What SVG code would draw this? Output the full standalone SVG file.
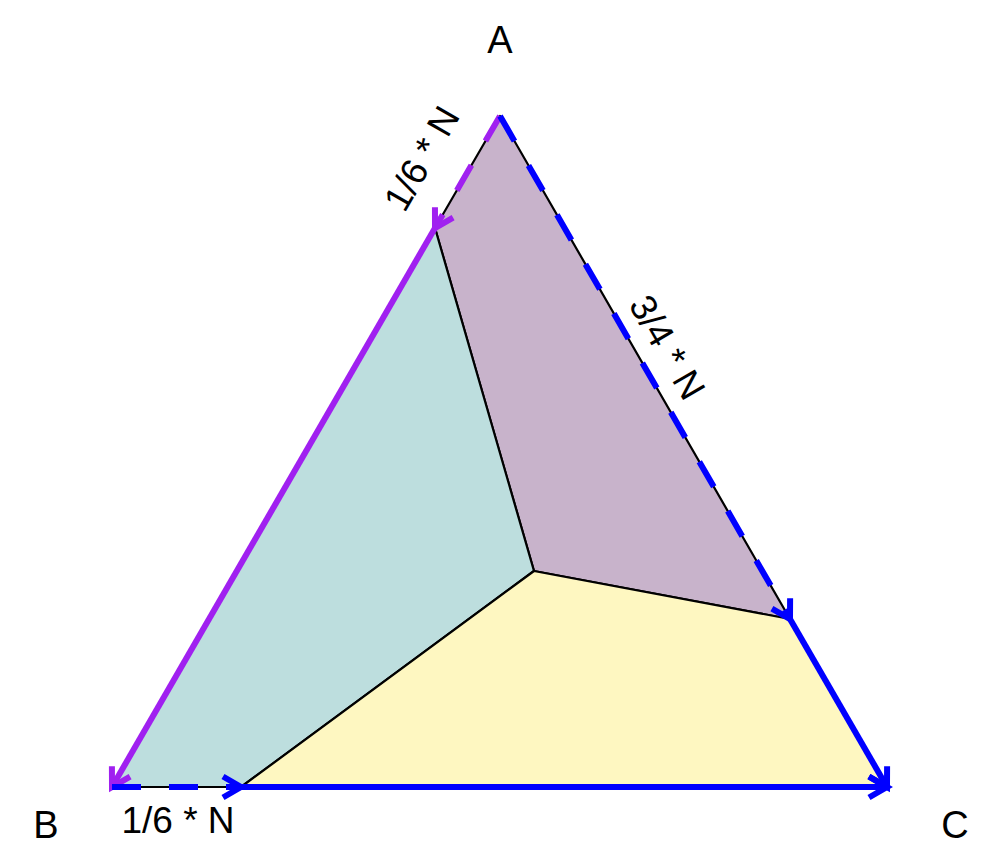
<svg xmlns="http://www.w3.org/2000/svg" width="1000" height="866" viewBox="0 0 1000 866">
<defs>
<style>
.region{stroke:#000;stroke-width:2.2;stroke-linejoin:round}
.lbl{font-family:"Liberation Sans",Arial,sans-serif;font-size:38px;fill:#000;text-anchor:middle}
.qty{font-family:"Liberation Sans",Arial,sans-serif;font-size:37px;fill:#000;text-anchor:middle}
.arr{fill:none;stroke-width:6;stroke-linecap:butt}
.dash{stroke-dasharray:29 28}
.purple{stroke:#A020F0}
.blue{stroke:#0000FF}
</style>
<marker id="hp" markerUnits="userSpaceOnUse" viewBox="-24 -14 28 28" refX="0" refY="0" markerWidth="28" markerHeight="28" orient="auto" overflow="visible">
<path d="M-18,-10.5 L0,0 L-18,10.5" fill="none" stroke="#A020F0" stroke-width="6"/>
</marker>
<marker id="hb" markerUnits="userSpaceOnUse" viewBox="-24 -14 28 28" refX="0" refY="0" markerWidth="28" markerHeight="28" orient="auto" overflow="visible">
<path d="M-18,-10.5 L0,0 L-18,10.5" fill="none" stroke="#0000FF" stroke-width="6"/>
</marker>
</defs>
<rect width="1000" height="866" fill="#fff"/>
<g id="regions">
<polygon id="regionA" class="region" fill="#C8B3CB" points="500,116 790,619 534,571 435,228"/>
<polygon id="regionB" class="region" fill="#BDDEDE" points="112,787 435,228 534,571 241,787"/>
<polygon id="regionC" class="region" fill="#FEF7C1" points="887,787 241,787 534,571 790,619"/>
</g>
<g id="connectors">
<line class="arr purple dash" x1="500" y1="116" x2="435" y2="228" marker-end="url(#hp)"/>
<line class="arr purple" x1="435" y1="228" x2="112" y2="787" marker-end="url(#hp)"/>
<line class="arr blue dash" x1="500" y1="116" x2="790" y2="619" marker-end="url(#hb)"/>
<line class="arr blue" x1="790" y1="619" x2="887" y2="787" marker-end="url(#hb)"/>
<line class="arr blue dash" x1="112" y1="787" x2="241" y2="787" marker-end="url(#hb)"/>
<line class="arr blue" x1="241" y1="787" x2="887" y2="787" marker-end="url(#hb)"/>
</g>
<g id="labels">
<text id="labelA" class="lbl" x="500" y="53">A</text>
<text id="labelB" class="lbl" x="46" y="838">B</text>
<text id="labelC" class="lbl" x="955" y="838">C</text>
<text id="qtyAB" class="qty" transform="translate(421,158) rotate(-60)" y="13.5">1/6 * N</text>
<text id="qtyAC" class="qty" transform="translate(668,347) rotate(60)" y="13.5">3/4 * N</text>
<text id="qtyBC" class="qty" x="178" y="833">1/6 * N</text>
</g>
</svg>
